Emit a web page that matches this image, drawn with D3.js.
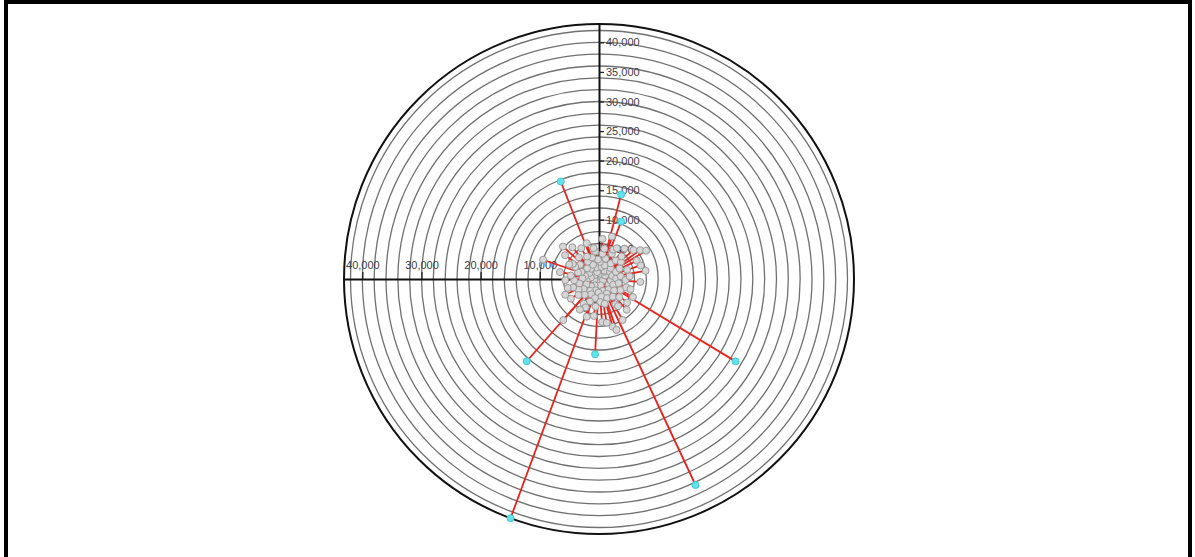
<!DOCTYPE html>
<html>
<head>
<meta charset="utf-8">
<script src="https://cdn.jsdelivr.net/npm/d3@7"></script>
<style>
  body { margin: 0; background: #fff; }
  svg { display: block; }
  .axis text { font-family: "Liberation Sans", Arial, sans-serif; font-size: 11px; fill: #3c3c48; }
</style>
</head>
<body>
<svg id="chart" width="1195" height="557"></svg>
<script>
// Polar scatter: direction in degrees (clockwise from north) and magnitude per record
const angles = [
  3, 8, 12, 18, 23, 27, 33, 37, 42, 47, 52, 57, 63, 67, 72, 77, 83, 88, 92, 97,
  102, 107, 112, 117, 122, 127, 132, 137, 142, 147, 152, 157, 162, 167, 172, 177, 182, 187, 192, 197,
  202, 207, 212, 217, 222, 227, 232, 237, 242, 247, 252, 257, 262, 267, 272, 277, 282, 287, 292, 297,
  302, 307, 312, 317, 322, 327, 332, 337, 342, 347, 352, 357,
  312, 305, 55, 59, 50, 64, 72, 80, 94, 118, 108, 130, 138, 150, 161, 164, 170, 176, 188, 198,
  212, 221, 235, 254, 289, 268, 280, 296, 320, 330, 341, 350, 5, 17, 30, 40, 45, 85, 145, 205,
  245, 300, 26, 10,
  15, 60, 110, 165, 215, 260, 310, 345, 80, 190, 280, 35,
  338.6, 14.7, 21.1, 221.3, 183, 121.1, 154.9, 200.3
];
const values = [
  2900, 4300, 2100, 3600, 2500, 4800, 1700, 3300, 4200, 2700, 4700, 2200, 3900, 3100, 5000, 2300, 3700, 2900, 4500, 2000,
  3400, 4800, 2600, 4100, 1900, 3200, 4600, 2400, 3800, 5100, 2800, 3500, 2100, 4300, 3000, 3900, 2300, 4700, 3300, 2000,
  4100, 2900, 4900, 2500, 3600, 1800, 4400, 3100, 3900, 2300, 4600, 3400, 2100, 4200, 2800, 4800, 2400, 3700, 3200, 4500,
  1900, 4000, 2700, 5000, 2200, 3500, 4300, 2600, 3800, 2000, 4700, 3300,
  8200, 7000, 8500, 9300, 7600, 7100, 7400, 8000, 7000, 6500, 5600, 6200, 7000, 8000, 9100, 8400, 7500, 7300, 6300, 6700,
  6100, 9200, 5800, 5500, 10000, 5700, 6700, 5600, 7000, 6000, 6400, 5300, 6800, 7500, 6000, 6700, 5400, 5200, 5600, 5300,
  6300, 5100, 5500, 5200,
  900, 1200, 700, 1100, 1300, 800, 1000, 1200, 400, 600, 1400, 1500,
  17700, 14750, 10400, 18500, 12750, 26950, 38450, 43100
];
const yTickValues = [5000, 10000, 15000, 20000, 25000, 30000, 35000, 40000];
const xTickValues = [10000, 20000, 30000, 40000];
const highlightThreshold = 10000;

const svg = d3.select('#chart');

// page frame
svg.append('rect').attr('x', 4).attr('y', 0).attr('width', 1188).attr('height', 4).attr('fill', '#000');
svg.append('rect').attr('x', 4).attr('y', 0).attr('width', 4).attr('height', 557).attr('fill', '#000');
svg.append('rect').attr('x', 1188).attr('y', 0).attr('width', 4).attr('height', 557).attr('fill', '#000');

const cx = 599, cy = 279, outerR = 255;
const maxVal = d3.max(values);
const r = d3.scaleLinear().domain([0, maxVal]).range([0, outerR]);

const g = svg.append('g').attr('transform', `translate(${cx},${cy})`);

// concentric grid rings
g.append('g').selectAll('circle')
  .data(r.ticks(20).filter(d => d > 0))
  .join('circle')
  .attr('r', d => r(d))
  .attr('fill', 'none')
  .attr('stroke', '#707070')
  .attr('stroke-width', 1.3);

g.append('circle')
  .attr('r', outerR)
  .attr('fill', 'none')
  .attr('stroke', '#111')
  .attr('stroke-width', 2);

// vertical (north) axis
const yScale = d3.scaleLinear().domain([0, maxVal]).range([0, -outerR]);
const yAxis = g.append('g').attr('class', 'axis')
  .call(d3.axisRight(yScale).tickValues(yTickValues).tickSize(5).tickPadding(2)
    .tickSizeOuter(0).tickFormat(d3.format(',')));

// horizontal (west) axis
const xScale = d3.scaleLinear().domain([0, maxVal]).range([0, -outerR]);
const xAxis = g.append('g').attr('class', 'axis')
  .call(d3.axisTop(xScale).tickValues(xTickValues).tickSize(7).tickPadding(3)
    .tickSizeOuter(0).tickFormat(d3.format(',')));

[yAxis, xAxis].forEach(a => {
  a.select('.domain').attr('stroke', '#111').attr('stroke-width', 2);
  a.selectAll('.tick line').attr('stroke', '#222').attr('stroke-width', 1.3);
});

const points = angles.map((a, i) => {
  const rad = a * Math.PI / 180;
  const rr = r(values[i]);
  return { x: rr * Math.sin(rad), y: -rr * Math.cos(rad), v: values[i] };
});

// spokes from the centre to each record
g.append('g').selectAll('line')
  .data(points)
  .join('line')
  .attr('x1', 0).attr('y1', 0)
  .attr('x2', d => d.x).attr('y2', d => d.y)
  .attr('stroke', '#e8231c')
  .attr('stroke-width', 1.8);

// markers
g.append('g').selectAll('circle')
  .data(points.slice().sort((a, b) => a.v - b.v))
  .join('circle')
  .attr('cx', d => d.x).attr('cy', d => d.y)
  .attr('r', 3.5)
  .attr('fill', d => d.v > highlightThreshold ? '#62e2ea' : '#d6d6d6')
  .attr('stroke', d => d.v > highlightThreshold ? '#3fc9d2' : '#999999')
  .attr('stroke-width', 1);
</script>
</body>
</html>
